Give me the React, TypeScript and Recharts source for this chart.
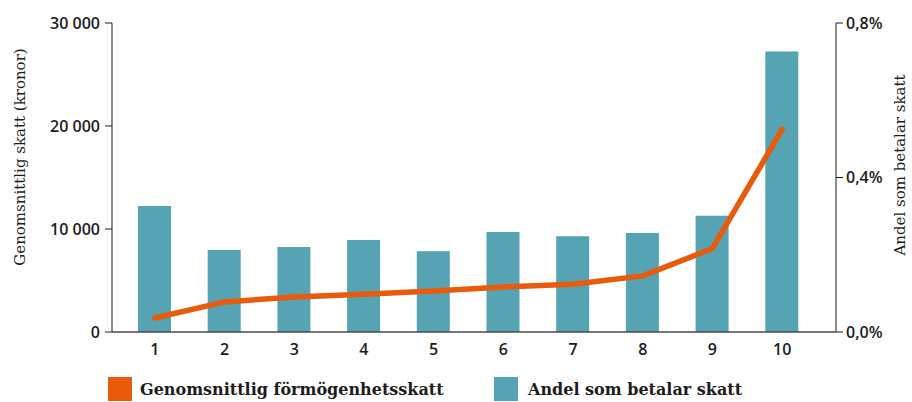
import { ComposedChart, Bar, Line, XAxis, YAxis } from 'recharts'

const deciles = ['1', '2', '3', '4', '5', '6', '7', '8', '9', '10']
// Genomsnittlig förmögenhetsskatt (kronor), left axis
const avgTax = [1360, 2920, 3400, 3670, 3990, 4380, 4640, 5450, 8110, 19690]
// Andel som betalar skatt (procent), right axis
const shareTaxed = [0.326, 0.212, 0.22, 0.238, 0.209, 0.259, 0.248, 0.256, 0.301, 0.726]
const leftTicks = [0, 10000, 20000, 30000]
const rightTicks = [0, 0.4, 0.8]

const ORANGE = '#e85a0c'
const TEAL = '#55a3b3'
const INK = '#1c1c1c'
const SANS = '"Open Sans", "Noto Sans", sans-serif'
const SERIF = '"DejaVu Serif", serif'

const data = deciles.map((d, i) => ({ decile: d, avgTax: avgTax[i], share: shareTaxed[i] }))

const fmtKr = (v: number) => (v === 0 ? '0' : `${v / 1000} 000`)
const fmtPct = (v: number) => `${v.toFixed(1).replace('.', ',')}%`

// fixed-position rotated axis title (recharts passes its own x/y, so use other names)
function AxisTitle({ cx, cy, text }: { cx: number; cy: number; text: string }) {
  return (
    <text
      x={cx}
      y={cy}
      transform={`rotate(-90, ${cx}, ${cy})`}
      textAnchor="middle"
      dominantBaseline="central"
      fontFamily={SERIF}
      fontSize={15}
      fill={INK}
    >
      {text}
    </text>
  )
}

const tickStyle = { fontSize: 16, fill: INK, fontFamily: SANS, fontWeight: 600 }

export default function App() {
  return (
    <div style={{ position: 'absolute', left: 0, top: 0, width: 912, height: 402, background: '#fff' }}>
      <ComposedChart width={912} height={402} data={data} margin={{ top: 23, right: 0, left: 0, bottom: 40 }}>
        <XAxis
          dataKey="decile"
          height={30}
          padding={{ left: 8, right: 19 }}
          tick={tickStyle}
          tickLine={false}
          tickMargin={6}
          axisLine={{ stroke: '#4a4a4a', strokeWidth: 1.5 }}
        />
        <YAxis
          yAxisId="left"
          width={112}
          domain={[0, 30000]}
          ticks={leftTicks}
          tickFormatter={fmtKr}
          tick={tickStyle}
          tickSize={7}
          tickMargin={5}
          axisLine={{ stroke: INK }}
          tickLine={{ stroke: INK }}
          label={<AxisTitle cx={20} cy={157} text="Genomsnittlig skatt (kronor)" />}
        />
        <YAxis
          yAxisId="right"
          orientation="right"
          width={76}
          domain={[0, 0.8]}
          ticks={rightTicks}
          tickFormatter={fmtPct}
          tick={tickStyle}
          tickSize={7}
          tickMargin={3}
          axisLine={{ stroke: INK }}
          tickLine={{ stroke: INK }}
          label={<AxisTitle cx={900} cy={165} text="Andel som betalar skatt" />}
        />
        <Bar yAxisId="right" dataKey="share" fill={TEAL} barSize={33} isAnimationActive={false} />
        <Line
          yAxisId="left"
          type="linear"
          dataKey="avgTax"
          stroke={ORANGE}
          strokeWidth={5.5}
          strokeLinecap="round"
          strokeLinejoin="round"
          dot={false}
          activeDot={false}
          isAnimationActive={false}
        />
      </ComposedChart>

      {/* Legend */}
      <div style={{ position: 'absolute', left: 108, top: 377, display: 'flex', alignItems: 'center', fontFamily: SERIF, fontWeight: 700, fontSize: 16, color: INK, whiteSpace: 'nowrap' }}>
        <span style={{ width: 24, height: 24, background: ORANGE, display: 'inline-block' }} />
        <span style={{ marginLeft: 8 }}>Genomsnittlig förmögenhetsskatt</span>
      </div>
      <div style={{ position: 'absolute', left: 494, top: 377, display: 'flex', alignItems: 'center', fontFamily: SERIF, fontWeight: 700, fontSize: 16, color: INK, whiteSpace: 'nowrap' }}>
        <span style={{ width: 24, height: 24, background: TEAL, display: 'inline-block' }} />
        <span style={{ marginLeft: 10 }}>Andel som betalar skatt</span>
      </div>
    </div>
  )
}
